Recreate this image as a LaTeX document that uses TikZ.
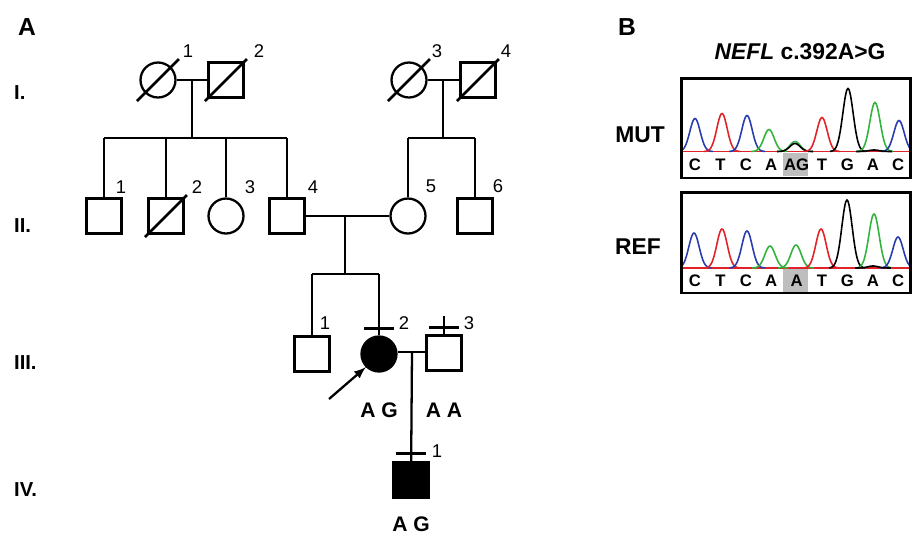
\documentclass[tikz,border=0pt]{standalone}
\usepackage{fontspec}
\setsansfont{Liberation Sans}
\definecolor{trblue}{RGB}{40,60,175}
\definecolor{trred}{RGB}{225,35,40}
\definecolor{trgreen}{RGB}{50,180,60}
\definecolor{basegray}{RGB}{190,190,190}
\begin{document}
\begin{tikzpicture}[x=0.02cm, y=-0.02cm, font=\sffamily, >=latex, line width=1.3pt,
      male/.style={draw, rectangle, inner sep=0pt, minimum size=0.7cm},
      female/.style={draw, circle, inner sep=0pt, minimum size=0.7cm},
      num/.style={font=\sffamily\fontsize{10.5}{12}\selectfont, inner sep=0pt},
      gen/.style={font=\sffamily\bfseries\fontsize{11.5}{13}\selectfont, anchor=west, inner sep=0pt},
      geno/.style={font=\sffamily\bfseries\fontsize{12}{14}\selectfont, inner sep=0pt},
      panel/.style={font=\sffamily\bfseries\fontsize{14}{16}\selectfont, inner sep=0pt},
      slash/.style={line width=1.6pt},
      tracebox/.style={draw, line width=1.7pt, inner sep=0pt, minimum width=4.58cm},
      trace/.style={line width=0.9pt},
      base/.style={font=\sffamily\bfseries\fontsize{9.5}{11}\selectfont, inner sep=0pt}]
    \useasboundingbox (0,0) rectangle (913,535);
    % panel A: pedigree
    \node[panel] (lblA) at (27,27) {A};
    \node[gen] (g1) at (13,93) {I.};
    \node[gen] (g2) at (13,226) {II.};
    \node[gen] (g3) at (13,363) {III.};
    \node[gen] (g4) at (13,490) {IV.};
    % generation I
    \node[female] (i1) at (158,80) {};
    \node[male] (i2) at (226,80) {};
    \node[female] (i3) at (409,80) {};
    \node[male] (i4) at (478,80) {};
    % generation II
    \node[male] (ii1) at (104,216) {};
    \node[male] (ii2) at (166,216) {};
    \node[female] (ii3) at (226,216) {};
    \node[male] (ii4) at (287,216) {};
    \node[female] (ii5) at (408,216) {};
    \node[male] (ii6) at (475,216) {};
    % generation III
    \node[male] (iii1) at (312,354) {};
    \node[female, fill=black] (iii2) at (379,354) {};
    \node[male] (iii3) at (444,353) {};
    % generation IV
    \node[male, fill=black] (iv1) at (411,480) {};
    % numbers
    \node[num] (n-i1) at (188,51) {1};
    \node[num] (n-i2) at (259,51) {2};
    \node[num] (n-i3) at (437,51) {3};
    \node[num] (n-i4) at (506,51) {4};
    \node[num] (n-ii1) at (121,187) {1};
    \node[num] (n-ii2) at (197,187) {2};
    \node[num] (n-ii3) at (250,187) {3};
    \node[num] (n-ii4) at (313,187) {4};
    \node[num] (n-ii5) at (431,186) {5};
    \node[num] (n-ii6) at (498,186) {6};
    \node[num] (n-iii1) at (325,323) {1};
    \node[num] (n-iii2) at (404,323) {2};
    \node[num] (n-iii3) at (469,323) {3};
    \node[num] (n-iv1) at (437,451) {1};
    % deceased
    \foreach \n in {i1,i2,i3,i4,ii2}
      \draw[slash] (\n.center) +(-21,21) -- +(21,-21);
    % couples and sibships
    \coordinate (s1) at (192,138);
    \coordinate (s2) at (443,138);
    \coordinate (s3) at (345,274);
    \draw (i1) -- (i2);
    \draw (s1 |- i1) -- (s1);
    \draw (ii1 |- s1) -- (ii4 |- s1);
    \foreach \n in {ii1,ii2,ii3,ii4}
      \draw (\n |- s1) -- (\n);
    \draw (i3) -- (i4);
    \draw (s2 |- i3) -- (s2);
    \draw (ii5 |- s2) -- (ii6 |- s2);
    \foreach \n in {ii5,ii6}
      \draw (\n |- s2) -- (\n);
    \draw (ii4) -- (ii5);
    \draw (s3 |- ii4) -- (s3);
    \draw (iii1 |- s3) -- (iii2 |- s3);
    \foreach \n in {iii1,iii2}
      \draw (\n |- s3) -- (\n);
    \coordinate (m3) at (412,352);
    \draw (iii2.east |- m3) -- (iii3.west |- m3);
    \draw (m3) -- (iv1);
    % tested marks
    \draw (iii2.north) ++(-15,-7) -- ++(30,0);
    \draw (iii3.north) ++(-15,-7) -- ++(30,0);
    \draw (iii3.north) -- ++(0,-18);
    \draw (iv1.north) ++(-15,-8) -- ++(30,0);
    % proband
    \coordinate (pr) at (329,399);
    \draw[->] (pr) -- (iii2.225);
    % genotypes
    \node[geno] (gt2) at (379,410) {A G};
    \node[geno] (gt3) at (444,410) {A A};
    \node[geno] (gt4) at (411,524) {A G};

    % panel B: traces
    \node[panel] (lblB) at (627,27) {B};
    \node[font=\sffamily\bfseries\fontsize{13}{15}\selectfont, inner sep=0pt] (title) at (800,52) {\textit{NEFL} c.392A>G};
    \node[font=\sffamily\bfseries\fontsize{13}{15}\selectfont, inner sep=0pt] (mut) at (640,135) {MUT};
    \node[font=\sffamily\bfseries\fontsize{13}{15}\selectfont, inner sep=0pt] (ref) at (638,247) {REF};
    \fill[basegray] (783,153) rectangle (808,176);
    \fill[basegray] (783,269) rectangle (808,292);
    \begin{scope}
      \clip (682,79) rectangle (910,177);
      \draw[trace, trred] (682,151.5) -- (910,151.5);
      \foreach \c/\h/\col in {695/33/trblue, 722/38/trred, 747/36/trblue, 769/22/trgreen, 795/10/trgreen,
          795/8/black, 822/34/trred, 848/63/black, 875/49/trgreen, 899/31/trblue, 874/1.5/black}
        \draw[trace, \col] plot[smooth, domain=\c-18:\c+18, samples=37]
          (\x, {151.5-\h*exp(-((\x-\c)/7.3)^2)});
    \end{scope}
    \begin{scope}
      \clip (682,193) rectangle (910,292);
      \draw[trace, trred] (682,268) -- (910,268);
      \foreach \c/\h/\col in {694/35/trblue, 722/39/trred, 747/37/trblue, 770/22/trgreen, 796/23/trgreen,
          821/39/trred, 847/68/black, 874/54/trgreen, 898/31/trblue, 873/2/black}
        \draw[trace, \col] plot[smooth, domain=\c-18:\c+18, samples=37]
          (\x, {268-\h*exp(-((\x-\c)/7.3)^2)});
    \end{scope}
    \node[tracebox, minimum height=2cm] (mutbox) at (796,128) {};
    \node[tracebox, minimum height=2.02cm] (refbox) at (796,242.5) {};
    \foreach \b [count=\i] in {C,T,C,A,AG,T,G,A,C} {
      \node[base] (mb\i) at (695+25.4*\i-25.4,165) {\b};
    }
    \foreach \b [count=\i] in {C,T,C,A,A,T,G,A,C} {
      \node[base] (rb\i) at (695+25.4*\i-25.4,281) {\b};
    }
  \end{tikzpicture}
\end{document}
